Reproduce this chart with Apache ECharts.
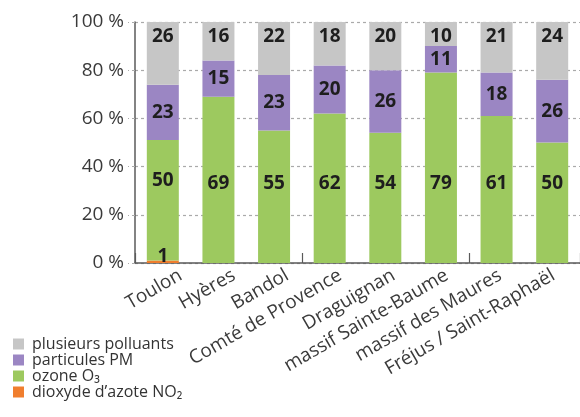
<!DOCTYPE html>
<html>
<head>
<meta charset="utf-8">
<script src="https://cdn.jsdelivr.net/npm/echarts@6/dist/echarts.min.js"></script>
<style>
  html, body { margin: 0; padding: 0; background: #fff; }
  #chart { width: 580px; height: 417px; }
</style>
</head>
<body>
<div id="chart"></div>
<script>
// Stations (categories) and share of each pollutant type, in percent
const categories = ['Toulon', 'Hyères', 'Bandol', 'Comté de Provence', 'Draguignan',
  'massif Sainte-Baume', 'massif des Maures', 'Fréjus / Saint-Raphaël'];
const no2Values = [1, 0, 0, 0, 0, 0, 0, 0];
const ozoneValues = [50, 69, 55, 62, 54, 79, 61, 50];
const pmValues = [23, 15, 23, 20, 26, 11, 18, 26];
const multiValues = [26, 16, 22, 18, 20, 10, 21, 24];
const yTicks = [0, 20, 40, 60, 80, 100];

const seriesNames = ['dioxyde d’azote NO₂', 'ozone O₃', 'particules PM', 'plusieurs polluants'];
const seriesColors = ['#f07e2e', '#9dc95f', '#9b86c3', '#c6c6c6'];

const FONT = '"Open Sans", "DejaVu Sans", sans-serif';
const labelText = '#1e1e1e';

function valueLabel(position, distance) {
  return {
    show: true,
    position: position,
    distance: distance,
    fontFamily: FONT,
    fontSize: 19,
    fontWeight: 'bold',
    color: labelText,
    formatter: p => (p.value ? String(p.value) : '')
  };
}

const chart = echarts.init(document.getElementById('chart'), null, { renderer: 'canvas' });

chart.setOption({
  animation: false,
  backgroundColor: '#ffffff',
  grid: [
    { left: 135, right: -8, top: 22, bottom: 154 },
    // label-only grid, nudged right so rotated names end past their bars
    { left: 154, right: -27, top: 22, bottom: 154 }
  ],
  legend: {
    orient: 'vertical',
    left: 13,
    top: 336,
    padding: 0,
    itemWidth: 11,
    itemHeight: 11,
    itemGap: 0,
    icon: 'rect',
    data: [seriesNames[3], seriesNames[2], seriesNames[1], seriesNames[0]],
    textStyle: { fontFamily: FONT, fontSize: 16, color: '#333', padding: [0, 0, 0, 3] }
  },
  xAxis: [
    {
      type: 'category',
      gridIndex: 0,
      data: categories,
      axisLine: { show: true, lineStyle: { color: '#5a5a5a', width: 1.5 } },
      axisTick: { show: true, inside: true, length: 10, lineStyle: { color: '#5a5a5a', width: 1.2 } },
      axisLabel: { show: false },
      splitLine: { show: false }
    },
    {
      type: 'category',
      gridIndex: 1,
      data: categories,
      axisLine: { show: false },
      axisTick: { show: false },
      axisLabel: {
        interval: 0,
        rotate: 30,
        margin: 11,
        fontFamily: FONT,
        fontSize: 19,
        color: '#3a3a3a'
      }
    }
  ],
  yAxis: [
    {
      type: 'value',
      gridIndex: 0,
      min: yTicks[0],
      max: yTicks[yTicks.length - 1],
      interval: yTicks[1] - yTicks[0],
      axisLine: { show: true, lineStyle: { color: '#5a5a5a', width: 1.5 } },
      axisTick: { show: true, length: 7, lineStyle: { color: '#aaaaaa', type: [3, 3] } },
      axisLabel: {
        margin: 11,
        fontFamily: FONT,
        fontSize: 19,
        color: '#3a3a3a',
        formatter: '{value} %'
      },
      splitLine: { show: true, lineStyle: { color: '#aaaaaa', width: 1.2, type: [3, 3] } }
    },
    {
      type: 'value',
      gridIndex: 1,
      min: 0,
      max: 100,
      show: false
    }
  ],
  series: [
    {
      name: seriesNames[0], type: 'bar', stack: 'total', barWidth: 32,
      xAxisIndex: 0, yAxisIndex: 0,
      itemStyle: { color: seriesColors[0] },
      label: valueLabel('insideBottom', -3),
      data: no2Values
    },
    {
      name: seriesNames[1], type: 'bar', stack: 'total', barWidth: 32,
      xAxisIndex: 0, yAxisIndex: 0,
      itemStyle: { color: seriesColors[1] },
      label: valueLabel('insideBottom', 70),
      data: ozoneValues
    },
    {
      name: seriesNames[2], type: 'bar', stack: 'total', barWidth: 32,
      xAxisIndex: 0, yAxisIndex: 0,
      itemStyle: { color: seriesColors[2] },
      label: valueLabel('inside', 0),
      data: pmValues
    },
    {
      name: seriesNames[3], type: 'bar', stack: 'total', barWidth: 32,
      xAxisIndex: 0, yAxisIndex: 0,
      itemStyle: { color: seriesColors[3] },
      label: valueLabel('insideTop', 5),
      data: multiValues
    }
  ]
});
</script>
</body>
</html>
